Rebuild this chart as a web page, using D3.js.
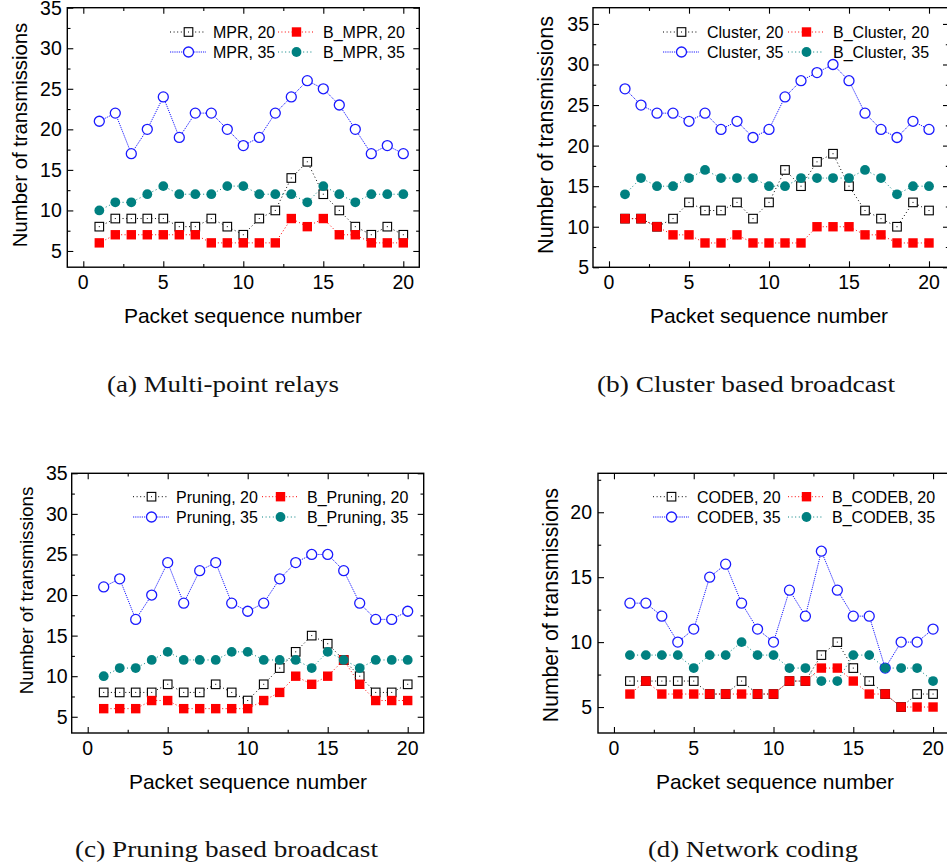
<!DOCTYPE html>
<html>
<head>
<meta charset="utf-8">
<script src="https://cdn.jsdelivr.net/npm/d3@7"></script>
<style>
  html, body { margin: 0; padding: 0; background: #fff; }
  svg { display: block; }
</style>
</head>
<body>
<svg id="fig" width="947" height="867"></svg>
<script>
// Packet sequence numbers (x values shared by every panel)
const packets = [1,2,3,4,5,6,7,8,9,10,11,12,13,14,15,16,17,18,19,20];
const xTickValues = [0, 5, 10, 15, 20];

// (a) Multi-point relays
const mpr20   = [8,9,9,9,9,8,8,9,8,7,9,10,14,16,12,10,8,7,8,7];
const bMpr20  = [6,7,7,7,7,7,7,6,6,6,6,6,9,8,9,7,7,6,6,6];
const mpr35   = [21,22,17,20,24,19,22,22,20,18,19,22,24,26,25,23,20,17,18,17];
const bMpr35  = [10,11,11,12,13,12,12,12,13,13,12,12,12,11,13,12,11,12,12,12];

// (b) Cluster based broadcast
const cluster20  = [11,11,10,11,13,12,12,13,11,13,17,15,18,19,15,12,11,10,13,12];
const bCluster20 = [11,11,10,9,9,8,8,9,8,8,8,8,10,10,10,9,9,8,8,8];
const cluster35  = [27,25,24,24,23,24,22,23,21,22,26,28,29,30,28,24,22,21,23,22];
const bCluster35 = [14,16,15,15,16,17,16,16,16,15,15,16,16,16,16,17,16,14,15,15];

// (c) Pruning based broadcast
const pruning20  = [8,8,8,8,9,8,8,9,8,7,9,11,13,15,14,12,10,8,8,9];
const bPruning20 = [6,6,6,7,7,6,6,6,6,6,7,8,10,9,10,12,9,7,7,7];
const pruning35  = [21,22,17,20,24,19,23,24,19,18,19,22,24,25,25,23,19,17,17,18];
const bPruning35 = [10,11,11,12,13,12,12,12,13,13,12,12,12,11,13,12,11,12,12,12];

// (d) Network coding
const codeb20  = [7,7,7,7,7,6,6,7,6,6,7,7,9,10,8,7,6,5,6,6];
const bCodeb20 = [6,7,6,6,6,6,6,6,6,6,7,7,8,8,7,6,6,5,5,5];
const codeb35  = [13,13,12,10,11,15,16,13,11,10,14,12,17,14,12,12,8,10,10,11];
const bCodeb35 = [9,9,9,9,8,9,9,10,9,9,8,8,7,7,9,9,8,8,8,7];

// Tick labels for the y axes
const yTicksTall  = [5, 10, 15, 20, 25, 30, 35];
const yTicksShort = [5, 10, 15, 20];

// Series styles, in drawing order (later ones sit on top)
const styles = [
  { color: "#000000", dash: "1,2.6", symbol: "openSquare" },
  { color: "#ff0000", dash: "1,2.4", symbol: "filledSquare" },
  { color: "#1a1aff", dash: "1.2,1", symbol: "openCircle" },
  { color: "#008080", dash: "1,2.6", symbol: "filledCircle" }
];

const panels = [
  {
    names: ["MPR, 20", "B_MPR, 20", "MPR, 35", "B_MPR, 35"],
    series: [mpr20, bMpr20, mpr35, bMpr35],
    caption: "(a) Multi-point relays",
    xDomain: [-1, 21], xRange: [67.3, 419.3],
    yDomain: [3, 35], yRange: [267.2, 7.7], yTicks: yTicksTall,
    yLabelGap: 5.5,
    yTitle: { x: 27, y: 135, size: 20.3 },
    xTitleX: 243,
    legend: { col1: 170, col2: 278, text1: 213, text2: 323, row1: 32, row2: 52 },
    cap: { x: 107, y: 391.7, w: 232 }
  },
  {
    names: ["Cluster, 20", "B_Cluster, 20", "Cluster, 35", "B_Cluster, 35"],
    series: [cluster20, bCluster20, cluster35, bCluster35],
    caption: "(b) Cluster based broadcast",
    xDomain: [-1, 21.25], xRange: [593, 949],
    yDomain: [5, 37], yRange: [267.3, 7.7], yTicks: yTicksTall,
    yLabelGap: 4,
    yTitle: { x: 553, y: 135, size: 21.5 },
    xTitleX: 769,
    legend: { col1: 663, col2: 788, text1: 707, text2: 833, row1: 32, row2: 52 },
    cap: { x: 597, y: 391.7, w: 298 }
  },
  {
    names: ["Pruning, 20", "B_Pruning, 20", "Pruning, 35", "B_Pruning, 35"],
    series: [pruning20, bPruning20, pruning35, bPruning35],
    caption: "(c) Pruning based broadcast",
    xDomain: [-1, 21], xRange: [71.7, 423.7],
    yDomain: [3, 35], yRange: [733, 473.3], yTicks: yTicksTall,
    yLabelGap: 4,
    yTitle: { x: 33, y: 590.5, size: 18.8 },
    xTitleX: 248,
    legend: { col1: 133, col2: 262, text1: 176, text2: 307, row1: 496.7, row2: 517 },
    cap: { x: 75, y: 856.5, w: 303 }
  },
  {
    names: ["CODEB, 20", "B_CODEB, 20", "CODEB, 35", "B_CODEB, 35"],
    series: [codeb20, bCodeb20, codeb35, bCodeb35],
    caption: "(d) Network coding",
    xDomain: [-1, 21.25], xRange: [598, 953],
    yDomain: [3, 23], yRange: [733, 473.3], yTicks: yTicksShort,
    yLabelGap: 6,
    yTitle: { x: 558, y: 605, size: 21.2 },
    xTitleX: 775,
    legend: { col1: 653, col2: 788, text1: 697, text2: 832, row1: 496.7, row2: 517 },
    cap: { x: 648, y: 856.5, w: 210 }
  }
];

const svg = d3.select("#fig");
svg.append("rect").attr("width", 947).attr("height", 867).attr("fill", "#fff");

const sansFont = "'Liberation Sans', Arial, Helvetica, sans-serif";
const serifFont = "'Liberation Serif', 'Times New Roman', serif";

function drawSymbol(g, kind, color, cx, cy) {
  if (kind === "openSquare") {
    g.append("rect").attr("x", cx - 4.3).attr("y", cy - 4.3).attr("width", 8.6).attr("height", 8.6)
      .attr("fill", "#fff").attr("stroke", color).attr("stroke-width", 1.1);
    g.append("rect").attr("x", cx - 0.5).attr("y", cy - 0.5).attr("width", 1).attr("height", 1)
      .attr("fill", color);
  } else if (kind === "filledSquare") {
    g.append("rect").attr("x", cx - 4.7).attr("y", cy - 4.7).attr("width", 9.4).attr("height", 9.4)
      .attr("fill", color);
  } else if (kind === "openCircle") {
    g.append("circle").attr("cx", cx).attr("cy", cy).attr("r", 5)
      .attr("fill", "#fff").attr("stroke", color).attr("stroke-width", 1.3);
  } else {
    g.append("circle").attr("cx", cx).attr("cy", cy).attr("r", 4.9).attr("fill", color);
  }
}

panels.forEach(p => {
  const x = d3.scaleLinear().domain(p.xDomain).range(p.xRange);
  const y = d3.scaleLinear().domain(p.yDomain).range(p.yRange);
  const [left, right] = p.xRange;
  const [bottom, top] = p.yRange;
  const g = svg.append("g");

  // Minor ticks every 2.5 units
  const xMinor = [2.5, 7.5, 12.5, 17.5];
  const yMinor = p.yTicks.map(v => v + 2.5).filter(v => v < p.yDomain[1]);

  // Axes with inward ticks on all four sides
  const axisStyle = sel => {
    sel.select(".domain").remove();
    sel.selectAll("line").attr("stroke", "#000").attr("stroke-width", 1.1);
  };
  g.append("g").attr("transform", `translate(0,${bottom})`)
    .call(d3.axisBottom(x).tickValues(xTickValues).tickSize(-6).tickFormat(""))
    .call(axisStyle);
  g.append("g").attr("transform", `translate(0,${bottom})`)
    .call(d3.axisBottom(x).tickValues(xMinor).tickSize(-3.2).tickFormat(""))
    .call(axisStyle);
  g.append("g").attr("transform", `translate(0,${top})`)
    .call(d3.axisTop(x).tickValues(xTickValues).tickSize(-6).tickFormat(""))
    .call(axisStyle);
  g.append("g").attr("transform", `translate(0,${top})`)
    .call(d3.axisTop(x).tickValues(xMinor).tickSize(-3.2).tickFormat(""))
    .call(axisStyle);
  g.append("g").attr("transform", `translate(${left},0)`)
    .call(d3.axisLeft(y).tickValues(p.yTicks).tickSize(-6).tickFormat(""))
    .call(axisStyle);
  g.append("g").attr("transform", `translate(${left},0)`)
    .call(d3.axisLeft(y).tickValues(yMinor).tickSize(-3.2).tickFormat(""))
    .call(axisStyle);
  g.append("g").attr("transform", `translate(${right},0)`)
    .call(d3.axisRight(y).tickValues(p.yTicks).tickSize(-6).tickFormat(""))
    .call(axisStyle);
  g.append("g").attr("transform", `translate(${right},0)`)
    .call(d3.axisRight(y).tickValues(yMinor).tickSize(-3.2).tickFormat(""))
    .call(axisStyle);

  // Frame
  g.append("rect").attr("x", left).attr("y", top)
    .attr("width", right - left).attr("height", bottom - top)
    .attr("fill", "none").attr("stroke", "#000").attr("stroke-width", 1.4);

  // Tick labels
  g.selectAll(".xl").data(xTickValues).join("text")
    .attr("x", d => x(d)).attr("y", bottom + 21.5)
    .attr("text-anchor", "middle").attr("font-family", sansFont).attr("font-size", 19.5)
    .text(d => d);
  g.selectAll(".yl").data(p.yTicks).join("text")
    .attr("x", left - p.yLabelGap).attr("y", d => y(d) + 7)
    .attr("text-anchor", "end").attr("font-family", sansFont).attr("font-size", 19.5)
    .text(d => d);

  // Axis titles
  g.append("text").attr("x", p.xTitleX).attr("y", bottom + 56)
    .attr("text-anchor", "middle").attr("font-family", sansFont).attr("font-size", 21)
    .text("Packet sequence number");
  g.append("text")
    .attr("transform", `translate(${p.yTitle.x},${p.yTitle.y}) rotate(-90)`)
    .attr("text-anchor", "middle").attr("font-family", sansFont).attr("font-size", p.yTitle.size)
    .text("Number of transmissions");

  // Series: dotted lines then symbols
  const line = d3.line().x((d, i) => x(packets[i])).y(d => y(d));
  p.series.forEach((vals, si) => {
    const st = styles[si];
    const sg = g.append("g");
    sg.append("path").datum(vals).attr("d", line)
      .attr("fill", "none").attr("stroke", st.color).attr("stroke-width", 1)
      .attr("stroke-dasharray", st.dash);
    vals.forEach((v, i) => drawSymbol(sg, st.symbol, st.color, x(packets[i]), y(v)));
  });

  // Legend, two columns by two rows
  const L = p.legend;
  const slots = [
    { lx: L.col1, tx: L.text1, ry: L.row1 },
    { lx: L.col2, tx: L.text2, ry: L.row1 },
    { lx: L.col1, tx: L.text1, ry: L.row2 },
    { lx: L.col2, tx: L.text2, ry: L.row2 }
  ];
  styles.forEach((st, si) => {
    const s = slots[si];
    const lg = g.append("g");
    lg.append("line").attr("x1", s.lx).attr("x2", s.lx + 36).attr("y1", s.ry).attr("y2", s.ry)
      .attr("stroke", st.color).attr("stroke-width", 1).attr("stroke-dasharray", st.dash);
    drawSymbol(lg, st.symbol, st.color, s.lx + 18.5, s.ry);
    lg.append("text").attr("x", s.tx).attr("y", s.ry + 5.8)
      .attr("font-family", sansFont).attr("font-size", 16).text(p.names[si]);
  });

  // Caption
  g.append("text").attr("x", p.cap.x).attr("y", p.cap.y)
    .attr("font-family", serifFont).attr("font-size", 23).attr("fill", "#111")
    .attr("textLength", p.cap.w).attr("lengthAdjust", "spacingAndGlyphs")
    .text(p.caption);
});
</script>
</body>
</html>
